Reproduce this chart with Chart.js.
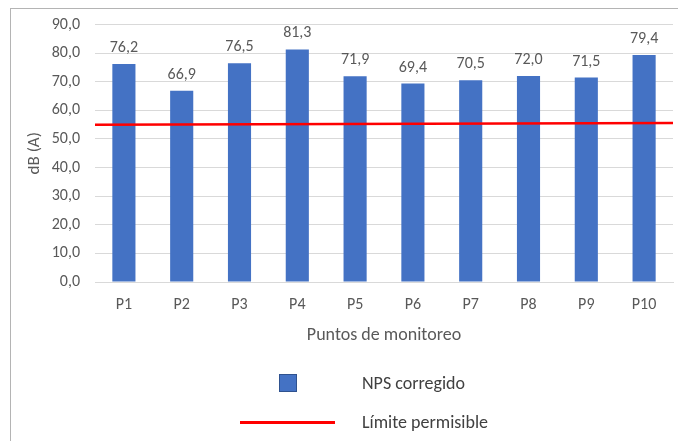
<!DOCTYPE html>
<html>
<head>
<meta charset="utf-8">
<script src="https://cdn.jsdelivr.net/npm/chart.js@4"></script>
<style>
  html, body { margin: 0; padding: 0; background: #fff; }
  #wrap { position: relative; width: 678px; height: 441px; overflow: hidden; }
  #frame { position: absolute; left: 10px; top: 8px; width: 700px; height: 500px;
           border-left: 1px solid #b4b4b4; border-top: 1px solid #b4b4b4; }
  canvas { position: absolute; left: 0; top: 0; }
  #legend { position: absolute; left: 0; top: 0; font-family: Carlito, Calibri, "Open Sans", sans-serif; font-size: 18px; color: #404040; }
  .item { position: absolute; left: 238px; height: 22px; width: 300px; }
  .item span.txt { position: absolute; left: 124px; top: 0; line-height: 22px; white-space: nowrap; }
  .box { position: absolute; left: 41px; top: 2px; width: 18px; height: 18px; box-sizing: border-box; }
  .ln { position: absolute; left: 2px; top: 10px; width: 95px; height: 3px; }
</style>
</head>
<body>
<div id="wrap">
  <div id="frame"></div>
  <canvas id="chart" width="678" height="441"></canvas>
  <div id="legend"></div>
</div>
<script>
// datos
const puntos = ["P1", "P2", "P3", "P4", "P5", "P6", "P7", "P8", "P9", "P10"];
const npsCorregido = [76.2, 66.9, 76.5, 81.3, 71.9, 69.4, 70.5, 72.0, 71.5, 79.4];
// el limite se ve un poco inclinado en la imagen: extremos izquierdo y derecho
const limiteX = [0, 1];
const limiteY = [55.0, 55.6];
const yTicks = [0, 10, 20, 30, 40, 50, 60, 70, 80, 90];

const fontFam = 'Carlito, Calibri, "Open Sans", sans-serif';
const gris = "#595959";

function coma(v) {
  return v.toFixed(1).replace(".", ",");
}

// etiquetas encima de las barras
const etiquetas = {
  id: "etiquetas",
  afterDatasetsDraw(chart) {
    const meta = chart.getDatasetMeta(0);
    const ctx = chart.ctx;
    ctx.save();
    ctx.font = "16px " + fontFam;
    ctx.fillStyle = gris;
    ctx.textAlign = "center";
    ctx.textBaseline = "middle";
    meta.data.forEach((bar, i) => {
      ctx.fillText(coma(npsCorregido[i]), bar.x, bar.y - 16);
    });
    ctx.restore();
  }
};

// leyenda en html, apilada como en el original
const leyendaHtml = {
  id: "leyendaHtml",
  afterUpdate(chart) {
    const box = document.getElementById("legend");
    box.innerHTML = "";
    const tops = [372, 411];
    chart.data.datasets.forEach((ds, i) => {
      const item = document.createElement("div");
      item.className = "item";
      item.style.top = tops[i] + "px";
      const mark = document.createElement("div");
      if (ds.type === "line") {
        mark.className = "ln";
        mark.style.background = ds.borderColor;
      } else {
        mark.className = "box";
        mark.style.background = ds.backgroundColor;
        mark.style.border = "1px solid #2f528f";
      }
      const txt = document.createElement("span");
      txt.className = "txt";
      txt.textContent = ds.label;
      item.appendChild(mark);
      item.appendChild(txt);
      box.appendChild(item);
    });
  }
};

const ctx = document.getElementById("chart").getContext("2d");
new Chart(ctx, {
  data: {
    labels: puntos,
    datasets: [
      {
        type: "bar",
        label: "NPS corregido",
        data: npsCorregido,
        backgroundColor: "#4472c4",
        barPercentage: 0.4,
        categoryPercentage: 1,
        grouped: false,
        order: 1
      },
      {
        type: "line",
        label: "Límite permisible",
        data: limiteX.map((x, i) => ({ x: x, y: limiteY[i] })),
        xAxisID: "x2",
        borderColor: "#ff0000",
        borderWidth: 2.5,
        pointRadius: 0,
        order: 0
      }
    ]
  },
  options: {
    responsive: false,
    animation: false,
    layout: { padding: { top: 20, right: 5, bottom: 93, left: 0 } },
    plugins: {
      legend: { display: false },
      tooltip: { enabled: false }
    },
    scales: {
      x: {
        type: "category",
        grid: { display: false, drawTicks: false },
        border: { color: "#d9d9d9" },
        ticks: { color: gris, font: { family: fontFam, size: 16 }, padding: 13 },
        title: {
          display: true,
          text: "Puntos de monitoreo",
          color: gris,
          font: { family: fontFam, size: 18 },
          padding: { top: 0, bottom: 2 }
        },
        afterFit(scale) { scale.height = 66; }
      },
      x2: {
        type: "linear",
        display: false,
        min: 0,
        max: 1
      },
      y: {
        min: 0,
        max: 90,
        afterBuildTicks(scale) { scale.ticks = yTicks.map(v => ({ value: v })); },
        grid: { color: "#d9d9d9", drawTicks: false },
        border: { display: false },
        ticks: {
          color: gris,
          font: { family: fontFam, size: 16 },
          padding: 15,
          callback: v => coma(v)
        },
        title: {
          display: true,
          text: "dB (A)",
          color: gris,
          font: { family: fontFam, size: 17 },
          padding: { top: 25, bottom: 0 }
        },
        afterFit(scale) { scale.width = 95; }
      }
    }
  },
  plugins: [etiquetas, leyendaHtml]
});
</script>
</body>
</html>
